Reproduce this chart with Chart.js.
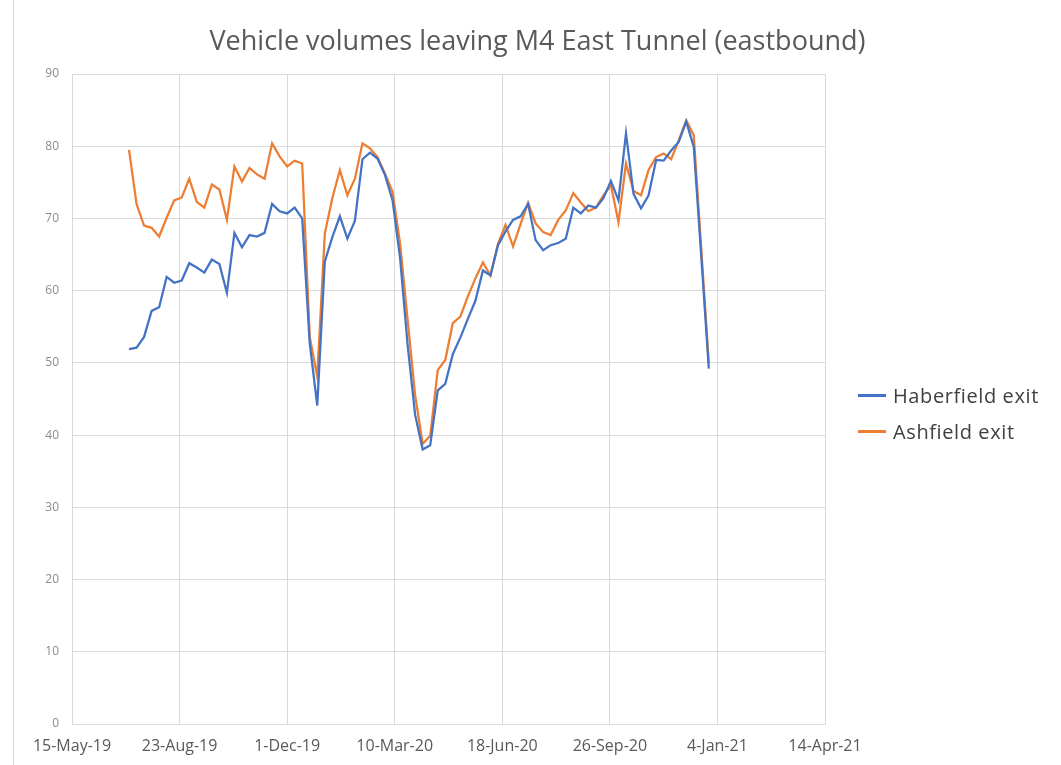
<!DOCTYPE html>
<html>
<head>
<meta charset="utf-8">
<title>Vehicle volumes leaving M4 East Tunnel (eastbound)</title>
<script src="https://cdn.jsdelivr.net/npm/chart.js@4.4.0/dist/chart.umd.min.js"></script>
<style>
  body { margin: 0; background: #fff; font-family: "Open Sans", sans-serif; }
  #wrap { position: relative; width: 1061px; height: 765px; }
  #edge { position: absolute; left: 13px; top: 0; width: 1px; height: 765px; background: #d9d9d9; }
  #chartTitle { position: absolute; left: 0; width: 1075px; top: 22px; text-align: center;
                font-size: 27px; line-height: 36px; color: #595959; }
  .legend-item { position: absolute; left: 858px; height: 24px; display: flex; align-items: center;
                 font-size: 20px; letter-spacing: 0.6px; color: #404040; }
  .legend-item span.swatch { display: inline-block; width: 28px; height: 3px; margin-right: 7px; }
</style>
</head>
<body>
<div id="wrap">
  <div id="edge"></div>
  <canvas id="tunnelChart"></canvas>
  <div id="chartTitle">Vehicle volumes leaving M4 East Tunnel (eastbound)</div>
  <div class="legend-item" style="top:383px"><span class="swatch" style="background:#4472C4"></span>Haberfield exit</div>
  <div class="legend-item" style="top:419px"><span class="swatch" style="background:#ED7D31"></span>Ashfield exit</div>
</div>
<script>
// weekly counts, first week starting 7-Jul-19, last 27-Dec-20
const firstWeek = '2019-07-07';
const axisStart = '2019-05-15';   // left end of the x axis (Excel's min)
const axisDays = 700;             // right end: 14-Apr-21
const monthNames = ['Jan','Feb','Mar','Apr','May','Jun','Jul','Aug','Sep','Oct','Nov','Dec'];

const haberfield = [
  51.9, 52.1, 53.6, 57.2, 57.7, 61.9, 61.1, 61.4, 63.8, 63.2,
  62.5, 64.3, 63.7, 59.7, 68.0, 66.0, 67.7, 67.5, 68.0, 72.0,
  71.0, 70.7, 71.5, 70.0, 52.7, 44.1, 64.0, 67.4, 70.3, 67.2,
  69.7, 78.2, 79.1, 78.3, 76.0, 72.5, 64.5, 52.5, 42.8, 38.0,
  38.6, 46.2, 47.1, 51.2, 53.5, 56.1, 58.6, 62.8, 62.1, 66.3,
  68.2, 69.8, 70.3, 72.0, 67.0, 65.6, 66.3, 66.6, 67.2, 71.5,
  70.7, 71.8, 71.5, 72.8, 75.2, 72.5, 81.8, 73.4, 71.4, 73.2,
  78.1, 78.0, 79.4, 80.6, 83.4, 79.9, 64.7, 49.2
];
const ashfield = [
  79.5, 72.0, 69.0, 68.7, 67.5, 70.1, 72.5, 72.9, 75.5, 72.3,
  71.5, 74.7, 74.0, 69.8, 77.2, 75.1, 77.0, 76.1, 75.5, 80.4,
  78.6, 77.2, 78.0, 77.6, 53.6, 48.1, 67.9, 72.8, 76.7, 73.2,
  75.5, 80.4, 79.7, 78.5, 76.2, 73.7, 66.5, 56.0, 45.5, 38.8,
  39.9, 49.0, 50.4, 55.5, 56.4, 59.2, 61.7, 63.9, 62.1, 66.5,
  69.1, 66.1, 69.2, 72.2, 69.3, 68.1, 67.7, 69.8, 71.1, 73.5,
  72.2, 71.0, 71.5, 73.2, 74.6, 69.5, 77.6, 73.8, 73.2, 76.7,
  78.5, 79.0, 78.2, 80.8, 83.6, 81.5, 65.7, 49.9
];

const DAY = 86400000;
const t0 = Date.parse(axisStart);
const offset0 = (Date.parse(firstWeek) - t0) / DAY;

// x is "days since 15-May-19" so a plain linear axis can stand in for Excel's date axis
const toPoints = values => values.map((v, i) => ({ x: offset0 + 7 * i, y: v }));

function dayLabel(v) {
  const d = new Date(t0 + v * DAY);
  return d.getUTCDate() + '-' + monthNames[d.getUTCMonth()] + '-' + String(d.getUTCFullYear()).slice(2);
}

const gridColor = '#d9d9d9';

new Chart(document.getElementById('tunnelChart'), {
  type: 'line',
  data: {
    datasets: [
      { label: 'Haberfield exit', data: toPoints(haberfield), borderColor: '#4472C4', borderWidth: 2.25 },
      { label: 'Ashfield exit', data: toPoints(ashfield), borderColor: '#ED7D31', borderWidth: 2.25 }
    ]
  },
  options: {
    responsive: true,
    maintainAspectRatio: false,
    animation: false,
    elements: { point: { radius: 0 }, line: { tension: 0 } },
    layout: { padding: { left: 14, right: 236, top: 74, bottom: 0 } },
    plugins: {
      legend: { display: false },
      tooltip: { enabled: false },
      title: { display: false }
    },
    scales: {
      x: {
        type: 'linear',
        min: 0,
        max: axisDays,
        afterFit: s => { s.height = 41; },
        ticks: { stepSize: 100, callback: dayLabel, color: '#595959', padding: 13,
                 maxRotation: 0, font: { family: 'Open Sans', size: 16 } },
        grid: { color: gridColor, drawTicks: false },
        border: { color: gridColor }
      },
      y: {
        min: 0,
        max: 90,
        afterFit: s => { s.width = 58; },
        ticks: { stepSize: 10, color: '#8c8c8c', padding: 13, font: { family: 'Open Sans', size: 12 } },
        grid: { color: gridColor, drawTicks: false },
        border: { color: gridColor }
      }
    }
  }
});
</script>
</body>
</html>
